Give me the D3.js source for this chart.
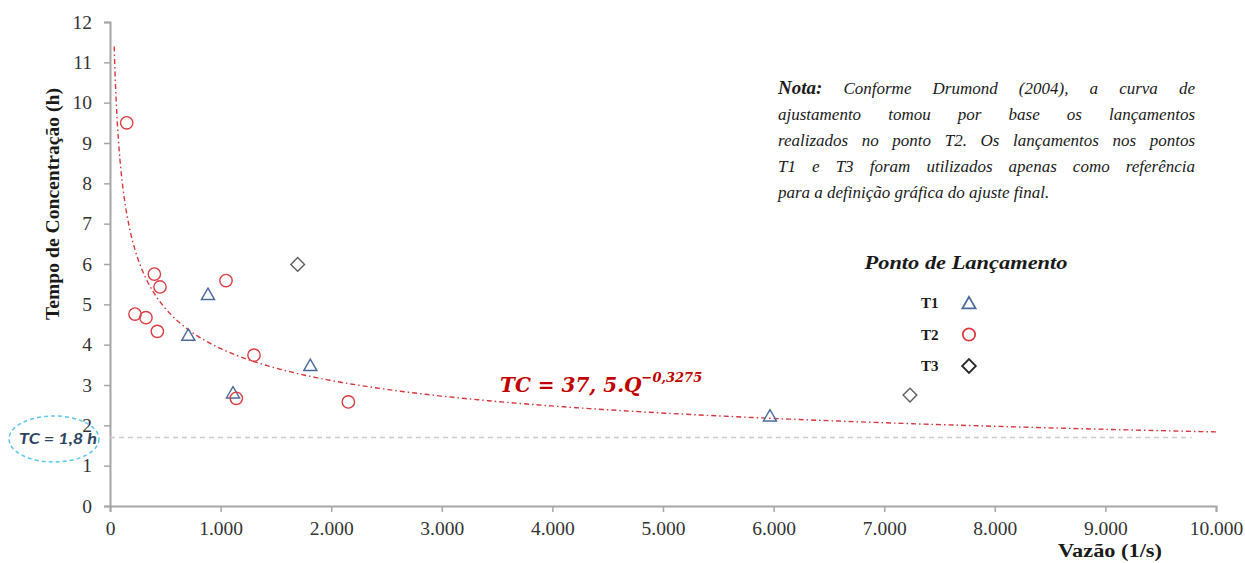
<!DOCTYPE html>
<html>
<head>
<meta charset="utf-8">
<script src="https://cdn.jsdelivr.net/npm/d3@7"></script>
<style>
  body { margin: 0; background: #fff; }
  svg { display: block; }
</style>
</head>
<body>
<div id="chart"></div>
<script>
   var svgWidth = 1245;
   var svgHeight = 563;

   // plot area edges
   var margin = { top: 22, right: 29, bottom: 57, left: 110 };

   // T1 launches (Q in l/s, TC in h)
   var t1Q = [708, 886, 1112, 1811, 5967];
   var t1TC = [4.24, 5.25, 2.81, 3.49, 2.24];

   // T2 launches
   var t2Q = [151, 226, 325, 401, 428, 452, 1049, 1142, 1302, 2155];
   var t2TC = [9.50, 4.76, 4.67, 5.75, 4.33, 5.43, 5.59, 2.67, 3.74, 2.58];

   // T3 launches
   var t3Q = [1697, 7233];
   var t3TC = [5.99, 2.75];

   // fitted curve TC = 37,5 . Q^-0,3275 and its drawn range
   var fitCoef = 37.5;
   var fitExp = -0.3275;
   var fitRange = [38, 10000];

   // reference line TC = 1,8 h (as drawn)
   var refTC = 1.7;
   var refRange = [0, 9780];

   var xTicks = [0, 1000, 2000, 3000, 4000, 5000, 6000, 7000, 8000, 9000, 10000];
   var yTicks = [0, 1, 2, 3, 4, 5, 6, 7, 8, 9, 10, 11, 12];

   var noteLines = [
       ["Conforme", "Drumond", "(2004),", "a", "curva", "de"],
       ["ajustamento", "tomou", "por", "base", "os", "lançamentos"],
       ["realizados", "no", "ponto", "T2.", "Os", "lançamentos", "nos", "pontos"],
       ["T1", "e", "T3", "foram", "utilizados", "apenas", "como", "referência"],
       ["para", "a", "definição", "gráfica", "do", "ajuste", "final."]
   ];

   var seriesNames = ["T1", "T2", "T3"];

   var width = svgWidth - margin.left - margin.right;
   var height = svgHeight - margin.top - margin.bottom;

   var svg = d3.select("#chart")
       .append("svg")
       .attr("width", svgWidth)
       .attr("height", svgHeight);

   var chartGroup = svg.append("g")
       .attr("transform", `translate(${margin.left}, ${margin.top})`);

   var xScale = d3.scaleLinear().domain([0, 10000]).range([0, width]);
   var yScale = d3.scaleLinear().domain([0, 12]).range([height, 0]);

   var ptBR = d3.formatLocale({ decimal: ",", thousands: ".", grouping: [3], currency: ["", ""] });
   var fmt = ptBR.format(",");

   var bottomAxis = d3.axisBottom(xScale).tickValues(xTicks).tickFormat(fmt).tickSize(6).tickPadding(9);
   var leftAxis = d3.axisLeft(yScale).tickValues(yTicks).tickSize(6).tickPadding(12);

   function styleAxis(g) {
       g.select(".domain").attr("stroke", "#a6a6a6").attr("stroke-width", 2);
       g.selectAll(".tick line").attr("stroke", "#a6a6a6").attr("stroke-width", 1.5);
       g.selectAll(".tick text")
           .style("font-family", "'Liberation Serif', serif")
           .style("font-size", "19.5px")
           .attr("fill", "#333333");
   }

   chartGroup.append("g")
       .attr("transform", `translate(0, ${height})`)
       .call(bottomAxis)
       .call(styleAxis);
   chartGroup.append("g")
       .call(leftAxis)
       .call(styleAxis);

   // reference line
   chartGroup.append("line")
       .attr("x1", xScale(refRange[0]))
       .attr("x2", xScale(refRange[1]))
       .attr("y1", yScale(refTC))
       .attr("y2", yScale(refTC))
       .attr("stroke", "#cccccc")
       .attr("stroke-width", 1.5)
       .attr("stroke-dasharray", "5,4");

   // fitted curve
   var fitPts = d3.range(0, 401).map(function(i) {
       var q = fitRange[0] * Math.pow(fitRange[1] / fitRange[0], i / 400);
       return [q, fitCoef * Math.pow(q, fitExp)];
   });
   chartGroup.append("path")
       .datum(fitPts)
       .attr("fill", "none")
       .attr("stroke", "#d8373c")
       .attr("stroke-width", 1.4)
       .attr("stroke-dasharray", "5,3,1.5,3")
       .attr("d", d3.line().x(d => xScale(d[0])).y(d => yScale(d[1])));

   var colors = { T1: "#4a6a9c", T2: "#dc3b40", T3: "#5f5f5f" };
   var symbols = {
       T1: d3.symbol().type(d3.symbolTriangle).size(75),
       T2: d3.symbol().type(d3.symbolCircle).size(120),
       T3: d3.symbol().type(d3.symbolDiamond2).size(120)
   };
   var offsets = { T1: 1.5, T2: 0, T3: 0 };

   function drawSeries(name, qs, tcs) {
       chartGroup.selectAll(null)
           .data(d3.zip(qs, tcs))
           .enter()
           .append("path")
           .attr("transform", d => `translate(${xScale(d[0])}, ${yScale(d[1]) + offsets[name]})`)
           .attr("d", symbols[name]())
           .attr("fill", "none")
           .attr("stroke", colors[name])
           .attr("stroke-width", 1.4);
   }
   drawSeries("T3", t3Q, t3TC);
   drawSeries("T1", t1Q, t1TC);
   drawSeries("T2", t2Q, t2TC);

   // axes labels
   svg.append("text")
       .attr("transform", "translate(59, 204) rotate(-90)")
       .attr("text-anchor", "middle")
       .attr("font-family", "Liberation Serif, serif")
       .attr("font-weight", "bold")
       .attr("font-size", 18)
       .attr("fill", "#1a1a1a")
       .attr("textLength", 232)
       .attr("lengthAdjust", "spacingAndGlyphs")
       .text("Tempo de Concentração (h)");

   svg.append("text")
       .attr("x", 1110)
       .attr("y", 557)
       .attr("text-anchor", "middle")
       .attr("font-family", "Liberation Serif, serif")
       .attr("font-weight", "bold")
       .attr("font-size", 18)
       .attr("fill", "#1a1a1a")
       .attr("textLength", 104)
       .attr("lengthAdjust", "spacingAndGlyphs")
       .text("Vazão (1/s)");

   // equation
   var eq = svg.append("text")
       .attr("x", 500)
       .attr("y", 392)
       .attr("font-family", "DejaVu Serif, serif")
       .attr("font-weight", "bold")
       .attr("font-style", "italic")
       .attr("fill", "#c00000");
   eq.append("tspan").attr("font-size", 20).text("TC = 37, 5.Q");
   eq.append("tspan").attr("font-size", 13).attr("dy", -10).text("−0,3275");

   // TC = 1,8 h ellipse
   svg.append("ellipse")
       .attr("cx", 54)
       .attr("cy", 439)
       .attr("rx", 45)
       .attr("ry", 23)
       .attr("fill", "none")
       .attr("stroke", "#5cc8ee")
       .attr("stroke-width", 1.5)
       .attr("stroke-dasharray", "4,3");
   svg.append("text")
       .attr("x", 19)
       .attr("y", 444)
       .attr("font-family", "Lato, sans-serif")
       .attr("font-weight", "bold")
       .attr("font-style", "italic")
       .attr("font-size", 15)
       .attr("fill", "#2e4561")
       .attr("textLength", 78)
       .attr("lengthAdjust", "spacingAndGlyphs")
       .text("TC = 1,8 h");

   // note, justified word by word
   var noteLeft = 778, noteRight = 1195, noteTop = 94, noteStep = 26;
   var noteGroup = svg.append("g")
       .style("font-family", "'Liberation Serif', serif")
       .attr("font-style", "italic")
       .attr("font-size", 17)
       .attr("fill", "#1a1a1a");

   noteLines.forEach(function(words, li) {
       var y = noteTop + li * noteStep;
       var items = [];
       if (li === 0) {
           items.push(noteGroup.append("text")
               .attr("y", y)
               .attr("font-weight", "bold")
               .attr("font-size", 19)
               .text("Nota:"));
       }
       words.forEach(function(w) {
           items.push(noteGroup.append("text").attr("y", y).text(w));
       });
       var widths = items.map(t => t.node().getComputedTextLength());
       var total = d3.sum(widths);
       var last = li === noteLines.length - 1;
       var gap = last ? 4.2 : (noteRight - noteLeft - total) / (items.length - 1);
       var x = noteLeft;
       items.forEach(function(t, i) {
           t.attr("x", x);
           x += widths[i] + gap;
       });
   });

   // legend
   svg.append("text")
       .attr("x", 966)
       .attr("y", 269)
       .attr("text-anchor", "middle")
       .attr("font-family", "Liberation Serif, serif")
       .attr("font-weight", "bold")
       .attr("font-style", "italic")
       .attr("font-size", 19)
       .attr("fill", "#1a1a1a")
       .attr("textLength", 203)
       .attr("lengthAdjust", "spacingAndGlyphs")
       .text("Ponto de Lançamento");

   var legendY = d3.scalePoint().domain(seriesNames).range([303, 366]);
   var legend = svg.selectAll(".legend-item")
       .data(seriesNames)
       .enter()
       .append("g")
       .attr("class", "legend-item")
       .attr("transform", d => `translate(0, ${legendY(d)})`);
   legend.append("text")
       .attr("x", 921)
       .attr("y", 5)
       .attr("font-family", "Liberation Serif, serif")
       .attr("font-weight", "bold")
       .attr("font-size", 15)
       .attr("fill", "#1a1a1a")
       .text(d => d);
   legend.append("path")
       .attr("transform", d => `translate(969, ${offsets[d]})`)
       .attr("d", d => symbols[d]())
       .attr("fill", "none")
       .attr("stroke", d => d === "T3" ? "#262626" : colors[d])
       .attr("stroke-width", 1.8);
</script>
</body>
</html>
